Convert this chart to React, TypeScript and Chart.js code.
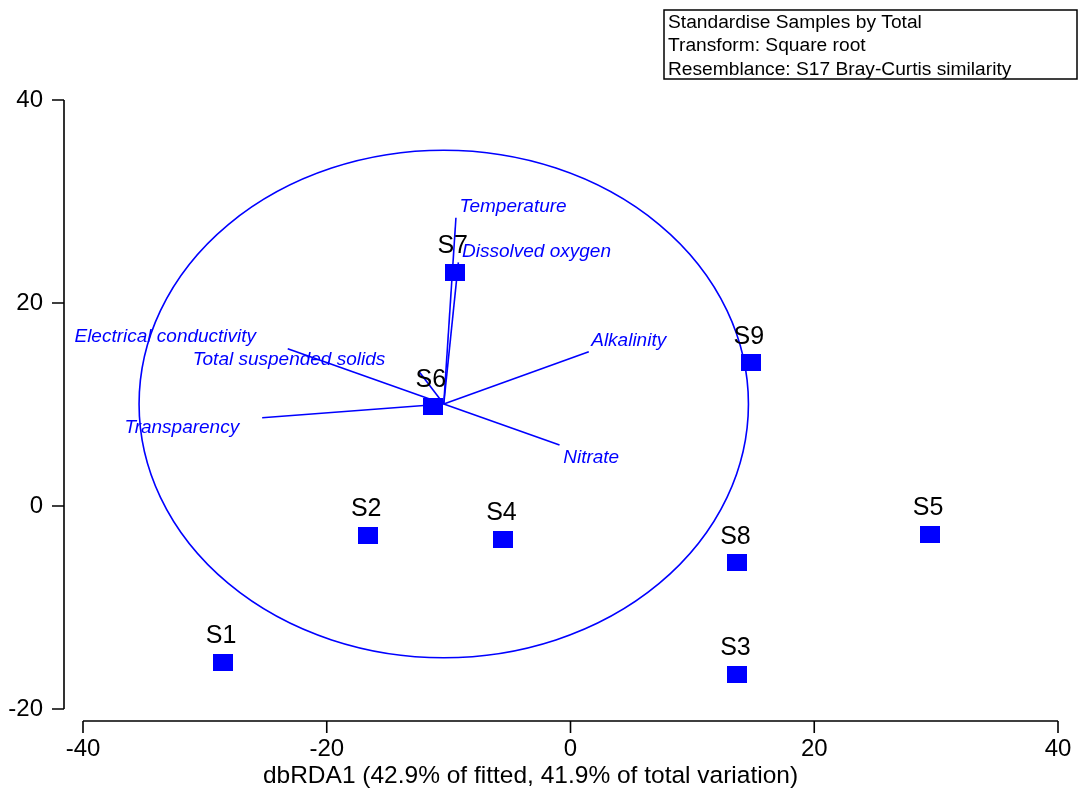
import React, { useEffect, useRef } from "react";
import { Chart, registerables } from "chart.js";

Chart.register(...registerables);

const sampleNames = ["S1", "S2", "S3", "S4", "S5", "S6", "S7", "S8", "S9"];
const sampleX = [-28.5, -16.6, 13.7, -5.5, 29.5, -11.3, -9.5, 13.7, 14.8];
const sampleY = [-15.4, -2.9, -16.6, -3.3, -2.8, 9.8, 23.0, -5.6, 14.1];

const vectorNames = [
  "Temperature",
  "Dissolved oxygen",
  "Electrical conductivity",
  "Total suspended solids",
  "Transparency",
  "Alkalinity",
  "Nitrate",
];
const vectorX = [-9.4, -9.2, -23.2, -12.4, -25.3, 1.5, -0.9];
const vectorY = [28.4, 24.0, 15.5, 13.2, 8.7, 15.2, 6.0];
const vectorLabelX = [-9.1, -8.9, -40.7, -31.0, -36.6, 1.7, -0.6];
const vectorLabelY = [29.5, 25.1, 16.7, 14.45, 7.7, 16.3, 4.8];
const vectorOrigin = { x: -10.4, y: 10.05 };
const circleRadius = 25;

const xTicks = [-40, -20, 0, 20, 40];
const yTicks = [-20, 0, 20, 40];
const xTitle = "dbRDA1 (42.9% of fitted, 41.9% of total variation)";
const infoLines = [
  "Standardise Samples by Total",
  "Transform: Square root",
  "Resemblance: S17 Bray-Curtis similarity",
];

const BLUE = "#0000ff";
const FONT = "'Liberation Sans', Arial, sans-serif";

export default function App() {
  const ref = useRef<HTMLCanvasElement | null>(null);

  useEffect(() => {
    const canvas = ref.current;
    if (!canvas) return;

    const marker = document.createElement("canvas");
    marker.width = 20;
    marker.height = 17;
    const mctx = marker.getContext("2d")!;
    mctx.fillStyle = BLUE;
    mctx.fillRect(0, 0, 20, 17);

    const decor = {
      id: "decor",
      beforeDatasetsDraw(chart: any) {
        const ctx = chart.ctx;
        const xs = chart.scales.x;
        const ys = chart.scales.y;
        const cx = xs.getPixelForValue(vectorOrigin.x);
        const cy = ys.getPixelForValue(vectorOrigin.y);
        const rx = Math.abs(xs.getPixelForValue(vectorOrigin.x + circleRadius) - cx);
        const ry = Math.abs(ys.getPixelForValue(vectorOrigin.y + circleRadius) - cy);
        ctx.save();
        ctx.strokeStyle = BLUE;
        ctx.lineWidth = 1.6;
        ctx.beginPath();
        ctx.ellipse(cx, cy, rx, ry, 0, 0, Math.PI * 2);
        ctx.stroke();
        ctx.restore();
      },
      afterDatasetsDraw(chart: any) {
        const ctx = chart.ctx;
        const xs = chart.scales.x;
        const ys = chart.scales.y;
        const area = chart.chartArea;
        ctx.save();
        // vector labels
        ctx.fillStyle = BLUE;
        ctx.font = `italic 19px ${FONT}`;
        ctx.textAlign = "left";
        ctx.textBaseline = "middle";
        vectorNames.forEach((n, i) => {
          ctx.fillText(n, xs.getPixelForValue(vectorLabelX[i]), ys.getPixelForValue(vectorLabelY[i]));
        });
        // sample labels
        ctx.fillStyle = "#000";
        ctx.font = `25px ${FONT}`;
        ctx.textAlign = "center";
        sampleNames.forEach((n, i) => {
          ctx.fillText(n, xs.getPixelForValue(sampleX[i]) - 2, ys.getPixelForValue(sampleY[i]) - 26);
        });
        // axes
        ctx.strokeStyle = "#000";
        ctx.lineWidth = 1.6;
        const yAxisX = area.left - 19;
        const yTop = ys.getPixelForValue(yTicks[yTicks.length - 1]);
        const yBot = ys.getPixelForValue(yTicks[0]);
        ctx.beginPath();
        ctx.moveTo(yAxisX, yTop);
        ctx.lineTo(yAxisX, yBot);
        yTicks.forEach((t) => {
          const p = ys.getPixelForValue(t);
          ctx.moveTo(yAxisX, p);
          ctx.lineTo(yAxisX - 12, p);
        });
        const xAxisY = area.bottom + 12;
        const xL = xs.getPixelForValue(xTicks[0]);
        const xR = xs.getPixelForValue(xTicks[xTicks.length - 1]);
        ctx.moveTo(xL, xAxisY);
        ctx.lineTo(xR, xAxisY);
        xTicks.forEach((t) => {
          const p = xs.getPixelForValue(t);
          ctx.moveTo(p, xAxisY);
          ctx.lineTo(p, xAxisY + 12);
        });
        ctx.stroke();
        ctx.fillStyle = "#000";
        ctx.font = `24px ${FONT}`;
        ctx.textAlign = "right";
        ctx.textBaseline = "middle";
        yTicks.forEach((t) => {
          ctx.fillText(String(t), yAxisX - 21, ys.getPixelForValue(t));
        });
        ctx.textAlign = "center";
        xTicks.forEach((t) => {
          ctx.fillText(String(t), xs.getPixelForValue(t), xAxisY + 28);
        });
        ctx.font = `24.5px ${FONT}`;
        ctx.fillText(xTitle, (xL + xR) / 2 - 40, xAxisY + 55);
        // info box
        ctx.lineWidth = 1.5;
        ctx.strokeRect(664, 10, 413, 69);
        ctx.font = `19.2px ${FONT}`;
        ctx.textAlign = "left";
        infoLines.forEach((l, i) => {
          ctx.fillText(l, 668, 22.5 + i * 23.5);
        });
        ctx.restore();
      },
    };

    const vectorDatasets = vectorNames.map((n, i) => ({
      type: "line" as const,
      label: n,
      data: [
        { x: vectorOrigin.x, y: vectorOrigin.y },
        { x: vectorX[i], y: vectorY[i] },
      ],
      borderColor: BLUE,
      borderWidth: 1.6,
      pointRadius: 0,
      showLine: true,
      fill: false,
      order: 2,
    }));

    const chart = new Chart(canvas, {
      type: "scatter",
      data: {
        datasets: [
          {
            label: "Samples",
            data: sampleX.map((x, i) => ({ x, y: sampleY[i] })),
            pointStyle: marker as any,
            pointRadius: 10,
            backgroundColor: BLUE,
            borderColor: BLUE,
            order: 1,
          } as any,
          ...vectorDatasets,
        ],
      },
      options: {
        responsive: false,
        animation: false,
        layout: { padding: { left: 83, right: 24, top: 100, bottom: 84 } },
        plugins: { legend: { display: false }, tooltip: { enabled: false } },
        scales: {
          x: { type: "linear", min: -40, max: 40, display: false },
          y: { type: "linear", min: -20, max: 40, display: false },
        },
      },
      plugins: [decor],
    });

    return () => chart.destroy();
  }, []);

  return (
    <div style={{ position: "fixed", left: 0, top: 0, width: 1082, height: 793, background: "#fff" }}>
      <canvas ref={ref} width={1082} height={793} style={{ display: "block" }} />
    </div>
  );
}
